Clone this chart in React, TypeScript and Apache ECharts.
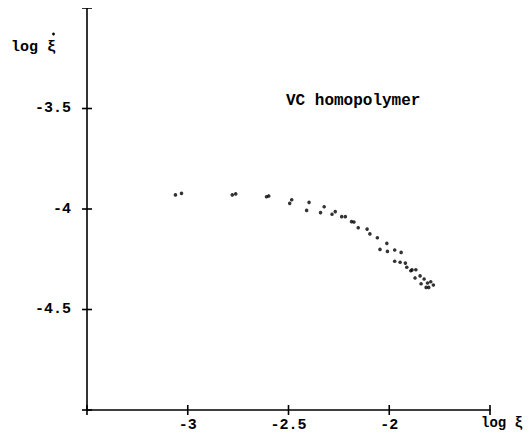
import React, { useEffect, useRef } from "react";
import * as echarts from "echarts";

// log ξ values of the measured points
const logXi: number[] = [
  -3.061, -3.031, -2.779, -2.762, -2.609, -2.598, -2.494, -2.484, -2.398, -2.41,
  -2.323, -2.341, -2.284, -2.268, -2.236, -2.218, -2.187, -2.175, -2.154, -2.11,
  -2.096, -2.059, -2.012, -2.046, -2.009, -1.973, -1.941, -1.973, -1.946, -1.92,
  -1.913, -1.893, -1.887, -1.868, -1.872, -1.847, -1.827, -1.842, -1.81, -1.794,
  -1.817, -1.804, -1.781,
];
// log ξ̇ values of the measured points
const logXiRate: number[] = [
  -3.93, -3.922, -3.93, -3.925, -3.939, -3.935, -3.972, -3.954, -3.967, -4.007,
  -3.989, -4.018, -4.026, -4.013, -4.038, -4.038, -4.063, -4.065, -4.093, -4.1,
  -4.124, -4.143, -4.171, -4.201, -4.211, -4.204, -4.216, -4.26, -4.265, -4.269,
  -4.29, -4.307, -4.303, -4.302, -4.343, -4.333, -4.348, -4.372, -4.368, -4.362,
  -4.39, -4.39, -4.378,
];

const xTicks: number[] = [-3.5, -3, -2.5, -2, -1.5];
const yTicks: number[] = [-5, -4.5, -4, -3.5, -3];
const xTickLabels: number[] = [-3, -2.5, -2];
const yTickLabels: number[] = [-3.5, -4, -4.5];

const X_MIN = -3.5;
const X_MAX = -1.5;
const Y_MIN = -5;
const Y_MAX = -3;

const FONT = "'Liberation Mono', 'DejaVu Sans Mono', monospace";
const INK = "#000";
const TICK_HALF = 5;

export default function App() {
  const ref = useRef<HTMLDivElement>(null);

  useEffect(() => {
    if (!ref.current) return;
    const chart = echarts.init(ref.current, undefined, { renderer: "svg" });
    const points = logXi.map((x, i) => [x, logXiRate[i]]);

    const fmt = (allowed: number[]) => (v: number) =>
      allowed.some((a) => Math.abs(a - v) < 1e-6) ? String(v) : "";

    const labelStyle = {
      color: INK,
      fontFamily: FONT,
      fontWeight: "bold" as const,
      fontSize: 15,
    };

    // tick marks that cross the axis line on both sides
    const tickData = [
      ...xTicks.map((v) => [v, Y_MIN, 0]),
      ...yTicks.map((v) => [X_MIN, v, 1]),
    ];

    chart.setOption({
      animation: false,
      backgroundColor: "#fff",
      grid: { left: 87, top: 8, width: 403, height: 402, containLabel: false },
      xAxis: {
        type: "value",
        min: X_MIN,
        max: X_MAX,
        interval: 0.5,
        splitLine: { show: false },
        axisLine: { onZero: false, lineStyle: { color: INK, width: 1.6 } },
        axisTick: { show: false },
        axisLabel: { ...labelStyle, margin: 8, formatter: fmt(xTickLabels) },
      },
      yAxis: {
        type: "value",
        min: Y_MIN,
        max: Y_MAX,
        interval: 0.5,
        splitLine: { show: false },
        axisLine: { onZero: false, lineStyle: { color: INK, width: 1.6 } },
        axisTick: { show: false },
        axisLabel: { ...labelStyle, margin: 16, formatter: fmt(yTickLabels) },
      },
      graphic: [
        {
          type: "text",
          left: 11,
          top: 40,
          style: { text: "log ξ", fill: INK, font: `bold 15px ${FONT}` },
        },
        {
          type: "circle",
          shape: { cx: 53.5, cy: 34, r: 1.4 },
          style: { fill: INK },
        },
        {
          type: "text",
          left: 481,
          top: 416,
          style: { text: "log ξ", fill: INK, font: `bold 14px ${FONT}` },
        },
        {
          type: "text",
          left: 286,
          top: 93,
          style: { text: "VC homopolymer", fill: INK, font: `bold 16px ${FONT}` },
        },
      ],
      series: [
        {
          type: "custom",
          data: tickData,
          clip: false,
          silent: true,
          z: 5,
          renderItem: (params: any, api: any) => {
            const p = api.coord([api.value(0), api.value(1)]);
            const vertical = api.value(2) === 0;
            const shape = vertical
              ? { x1: p[0], y1: p[1] - TICK_HALF, x2: p[0], y2: p[1] + TICK_HALF }
              : { x1: p[0] - TICK_HALF, y1: p[1], x2: p[0] + TICK_HALF, y2: p[1] };
            return {
              type: "line",
              shape,
              style: { stroke: INK, lineWidth: 1.6 },
            };
          },
        },
        {
          type: "scatter",
          data: points,
          symbol: "circle",
          symbolSize: 3.6,
          itemStyle: { color: INK },
        },
      ],
    });

    return () => chart.dispose();
  }, []);

  return <div ref={ref} style={{ width: 531, height: 445, margin: -8 }} />;
}
